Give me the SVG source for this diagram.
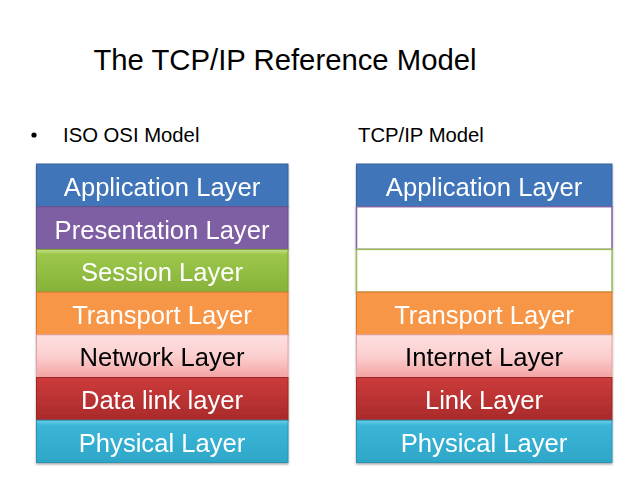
<svg xmlns="http://www.w3.org/2000/svg" width="638" height="479" viewBox="0 0 638 479">
<defs>
<linearGradient id="gGreen" x1="0" y1="0" x2="0" y2="1">
<stop offset="0" stop-color="#c5e08a"/><stop offset="0.12" stop-color="#9cc74b"/><stop offset="1" stop-color="#86b23a"/>
</linearGradient>
<linearGradient id="gPink" x1="0" y1="0" x2="0" y2="1">
<stop offset="0" stop-color="#fde0e0"/><stop offset="0.5" stop-color="#fccfcf"/><stop offset="1" stop-color="#f3a3a3"/>
</linearGradient>
<linearGradient id="gRed" x1="0" y1="0" x2="0" y2="1">
<stop offset="0" stop-color="#cd3b3b"/><stop offset="1" stop-color="#a92a2a"/>
</linearGradient>
<linearGradient id="gCyan" x1="0" y1="0" x2="0" y2="1">
<stop offset="0" stop-color="#6fd0ea"/><stop offset="0.12" stop-color="#3bb6d8"/><stop offset="1" stop-color="#2ea6c8"/>
</linearGradient>
<filter id="sh" x="-5%" y="-10%" width="110%" height="130%">
<feDropShadow dx="0" dy="1.5" stdDeviation="1.2" flood-color="#000" flood-opacity="0.35"/>
</filter>
</defs>
<style>
.t{font-family:"Liberation Sans",Arial,sans-serif;fill:#000}
.title{font-size:29.3px}
.sub{font-size:20.3px}
.lbl{font-family:"Liberation Sans",Arial,sans-serif;font-size:25.6px;text-anchor:middle;fill:#fff}
.dark{fill:#000}
.app{fill:#3f74b9;stroke:#36649f;stroke-width:1}
.pres{fill:#7f5fa3;stroke:#6b4f8a;stroke-width:1}
.sess{fill:url(#gGreen);stroke:#7a9e36;stroke-width:1}
.trans{fill:#f79646;stroke:#d9772c;stroke-width:1}
.net{fill:url(#gPink);stroke:#e8a0a0;stroke-width:1}
.dl{fill:url(#gRed);stroke:#9a2626;stroke-width:1}
.phy{fill:url(#gCyan);stroke:#2a93b3;stroke-width:1}
.epres{fill:#fff;stroke:#8064a2;stroke-width:1.5}
.esess{fill:#fff;stroke:#9bbb59;stroke-width:1.5}
</style>
<rect width="638" height="479" fill="#fff"/>
<text class="t title" x="285" y="70" text-anchor="middle">The TCP/IP Reference Model</text>
<circle cx="34" cy="135" r="2.6" fill="#000"/>
<text class="t sub" x="63" y="142">ISO OSI Model</text>
<text class="t sub" x="358" y="142">TCP/IP Model</text>

<g id="osi" filter="url(#sh)">
<g id="osi-application"><rect class="app" x="36.5" y="164" width="251.5" height="42.7"/><text class="lbl" x="162" y="196">Application Layer</text></g>
<g id="osi-presentation"><rect class="pres" x="36.5" y="206.7" width="251.5" height="42.7"/><text class="lbl" x="162" y="238.5">Presentation Layer</text></g>
<g id="osi-session"><rect class="sess" x="36.5" y="249.4" width="251.5" height="42.7"/><text class="lbl" x="162" y="281">Session Layer</text></g>
<g id="osi-transport"><rect class="trans" x="36.5" y="292.1" width="251.5" height="42.7"/><text class="lbl" x="162" y="323.5">Transport Layer</text></g>
<g id="osi-network"><rect class="net" x="36.5" y="334.8" width="251.5" height="42.7"/><text class="lbl dark" x="162" y="366">Network Layer</text></g>
<g id="osi-datalink"><rect class="dl" x="36.5" y="377.5" width="251.5" height="42.7"/><text class="lbl" x="162" y="409">Data link layer</text></g>
<g id="osi-physical"><rect class="phy" x="36.5" y="420.2" width="251.5" height="42.3"/><text class="lbl" x="162" y="451.5">Physical Layer</text></g>
</g>

<g id="tcpip" filter="url(#sh)">
<g id="tcp-application"><rect class="app" x="356.5" y="164" width="255.5" height="42.7"/><text class="lbl" x="484" y="196">Application Layer</text></g>
<g id="tcp-empty1"><rect class="epres" x="356.5" y="206.7" width="255.5" height="42.7"/></g>
<g id="tcp-empty2"><rect class="esess" x="356.5" y="249.4" width="255.5" height="42.7"/></g>
<g id="tcp-transport"><rect class="trans" x="356.5" y="292.1" width="255.5" height="42.7"/><text class="lbl" x="484" y="323.5">Transport Layer</text></g>
<g id="tcp-internet"><rect class="net" x="356.5" y="334.8" width="255.5" height="42.7"/><text class="lbl dark" x="484" y="366">Internet Layer</text></g>
<g id="tcp-link"><rect class="dl" x="356.5" y="377.5" width="255.5" height="42.7"/><text class="lbl" x="484" y="409">Link Layer</text></g>
<g id="tcp-physical"><rect class="phy" x="356.5" y="420.2" width="255.5" height="42.3"/><text class="lbl" x="484" y="451.5">Physical Layer</text></g>
</g>
<g id="connectors"/>
</svg>
